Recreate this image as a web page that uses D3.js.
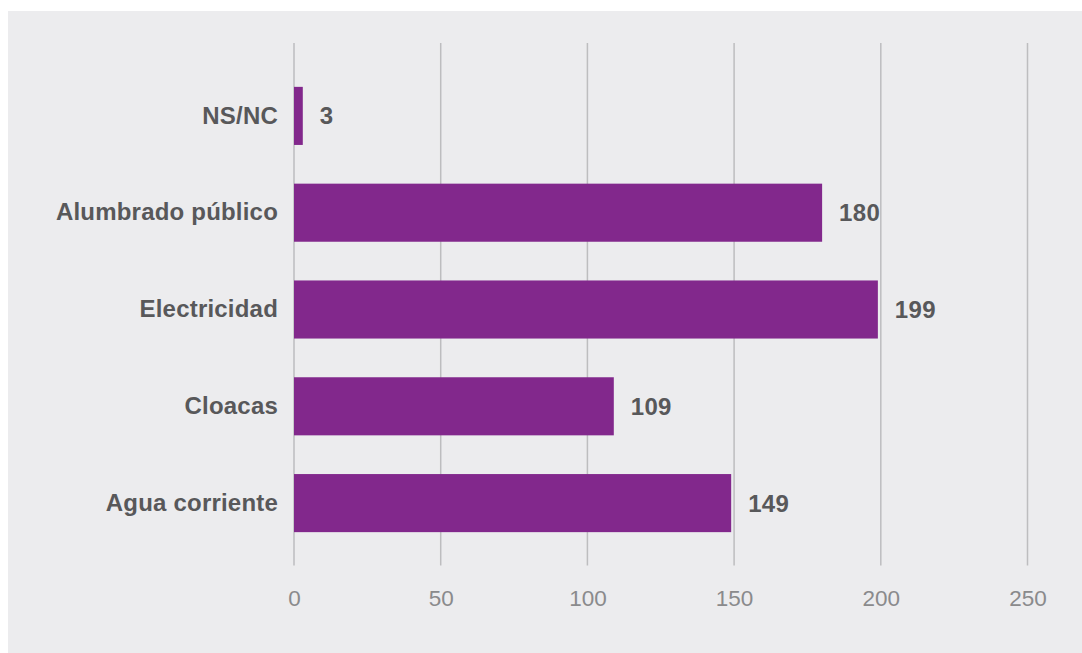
<!DOCTYPE html>
<html>
<head>
<meta charset="utf-8">
<script src="https://cdn.jsdelivr.net/npm/d3@7"></script>
<style>
  html, body { margin: 0; padding: 0; background: #ffffff; }
  svg { display: block; }
</style>
</head>
<body>
<svg id="chart" width="1082" height="653"></svg>
<script>
const categories = ["NS/NC", "Alumbrado público", "Electricidad", "Cloacas", "Agua corriente"];
const values = [3, 180, 199, 109, 149];
const tickValues = [0, 50, 100, 150, 200, 250];

const svg = d3.select("#chart");
const W = 1082, H = 653;

svg.append("rect").attr("x", 8).attr("y", 11).attr("width", W - 8).attr("height", H - 11)
  .attr("fill", "#ececee");

const x = d3.scaleLinear().domain([0, 250]).range([294, 1027.5]);
const y = d3.scaleBand().domain(categories).range([67.5, 551.5]).paddingInner(0.4).paddingOuter(0.2);

const font = "'Liberation Sans', Arial, Helvetica, sans-serif";

// gridlines
svg.append("g").selectAll("line").data(tickValues).join("line")
  .attr("x1", d => x(d)).attr("x2", d => x(d))
  .attr("y1", 43).attr("y2", 565.5)
  .attr("stroke", "#bdbdbf").attr("stroke-width", 1.5);

// x axis tick labels
const xAxis = d3.axisBottom(x).tickValues(tickValues).tickSize(0).tickPadding(0);
const gx = svg.append("g").attr("transform", "translate(0,591)").call(xAxis);
gx.select(".domain").remove();
gx.selectAll("text").attr("font-family", font).attr("font-size", 22.5).attr("fill", "#8a8a8c")
  .attr("dy", "0.32em").attr("y", 8);

// bars
svg.append("g").selectAll("rect").data(categories).join("rect")
  .attr("x", x(0))
  .attr("y", d => y(d))
  .attr("width", (d, i) => x(values[i]) - x(0))
  .attr("height", y.bandwidth())
  .attr("fill", "#82288c");

// category labels
const yAxis = d3.axisLeft(y).tickSize(0).tickPadding(16);
const gy = svg.append("g").attr("transform", `translate(${x(0)},0)`).call(yAxis);
gy.select(".domain").remove();
gy.selectAll("text").attr("font-family", font).attr("font-size", 24).attr("font-weight", "bold")
  .attr("fill", "#58585a").attr("letter-spacing", 0.2);

// value labels
svg.append("g").selectAll("text").data(categories).join("text")
  .attr("x", (d, i) => x(values[i]) + 17)
  .attr("y", d => y(d) + y.bandwidth() / 2)
  .attr("dy", "0.35em")
  .attr("font-family", font).attr("font-size", 24).attr("font-weight", "bold")
  .attr("fill", "#58585a").attr("letter-spacing", 0.3)
  .text((d, i) => values[i]);
</script>
</body>
</html>
